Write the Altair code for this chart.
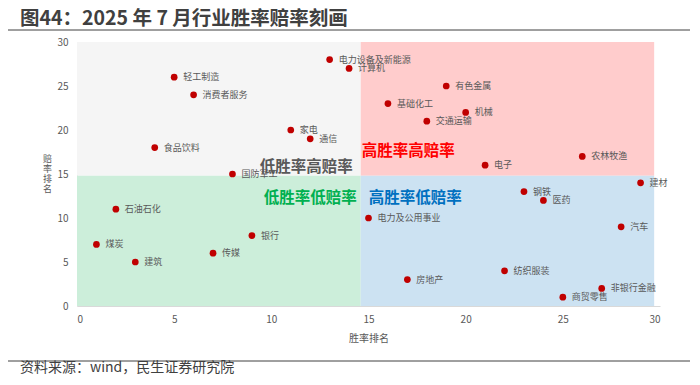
import altair as alt
import pandas as pd

FONT = "Noto Sans CJK SC"

# Industry data: (win-rate rank, odds rank)
industries = ["电力设备及新能源", "计算机", "轻工制造", "消费者服务", "家电", "通信", "食品饮料", "国防军工",
              "有色金属", "基础化工", "机械", "交通运输", "电子", "农林牧渔",
              "建材", "钢铁", "医药", "电力及公用事业", "汽车", "纺织服装", "房地产", "非银行金融", "商贸零售",
              "石油石化", "煤炭", "建筑", "传媒", "银行"]
win_rank = [13, 14, 5, 6, 11, 12, 4, 8,
            19, 16, 20, 18, 21, 26,
            29, 23, 24, 15, 28, 22, 17, 27, 25,
            2, 1, 3, 7, 9]
odds_rank = [28, 27, 26, 24, 20, 19, 18, 15,
             25, 23, 22, 21, 16, 17,
             14, 13, 12, 10, 9, 4, 3, 2, 1,
             11, 7, 5, 6, 8]

# Quadrant backgrounds
quad_x = [0, 14.6, 0, 14.6]
quad_x2 = [14.6, 29.7, 14.6, 29.7]
quad_y = [14.8, 14.8, 0, 0]
quad_y2 = [30, 30, 14.8, 14.8]
quad_fill = ["#F5F5F5", "#FFCCCC", "#CCEEDA", "#CCE2F2"]

# Quadrant labels
quad_names = ["低胜率高赔率", "高胜率高赔率", "低胜率低赔率", "高胜率低赔率"]
quad_lx = [11.8, 17.05, 12.0, 17.4]
quad_ly = [15.8, 17.6, 12.25, 12.3]
quad_lcolor = ["#595959", "#FF0000", "#00B050", "#0070C0"]

x_ticks = [0, 5, 10, 15, 20, 25, 30]
y_ticks = [0, 5, 10, 15, 20, 25, 30]

title_text = "图44：2025 年 7 月行业胜率赔率刻画"
source_text = "资料来源：wind，民生证券研究院"

df = pd.DataFrame({"name": industries, "x": win_rank, "y": odds_rank})
qdf = pd.DataFrame({"x": quad_x, "x2": quad_x2, "y": quad_y, "y2": quad_y2, "fill": quad_fill})
ldf = pd.DataFrame({"name": quad_names, "x": quad_lx, "y": quad_ly, "c": quad_lcolor})

xscale = alt.Scale(domain=[0, 30], nice=False, zero=False)
yscale = alt.Scale(domain=[0, 30], nice=False, zero=False)

xaxis = alt.Axis(values=x_ticks, grid=False, ticks=False, domainColor="#D9D9D9",
                 labelColor="#595959", labelFontSize=10, labelFont=FONT, labelPadding=8,
                 title="胜率排名", titleFont=FONT, titleFontSize=10, titleColor="#595959",
                 titleFontWeight="normal", titlePadding=9)
yaxis = alt.Axis(values=y_ticks, grid=False, ticks=False, domainColor="#D9D9D9",
                 labelColor="#595959", labelFontSize=10, labelFont=FONT, labelPadding=9,
                 title=["赔", "率", "排", "名"], titleAngle=0, titleFont=FONT, titleFontSize=9,
                 titleColor="#595959", titleFontWeight="normal", titleLineHeight=10,
                 titleAlign="center", titleBaseline="top", titleX=-30, titleY=112)

rects = alt.Chart(qdf).mark_rect().encode(
    x=alt.X("x:Q", scale=xscale, axis=xaxis),
    x2="x2:Q",
    y=alt.Y("y:Q", scale=yscale, axis=yaxis),
    y2="y2:Q",
    color=alt.Color("fill:N", scale=None),
)

points = alt.Chart(df).mark_circle(size=45, opacity=1, color="#C00000").encode(
    x=alt.X("x:Q", scale=xscale),
    y=alt.Y("y:Q", scale=yscale),
)

labels = alt.Chart(df).mark_text(align="left", baseline="middle", dx=9, font=FONT,
                                 fontSize=9, color="#595959").encode(
    x=alt.X("x:Q", scale=xscale),
    y=alt.Y("y:Q", scale=yscale),
    text="name:N",
)

qlabels = alt.Chart(ldf).mark_text(align="center", baseline="middle", font=FONT,
                                   fontSize=15.5, fontWeight="bold").encode(
    x=alt.X("x:Q", scale=xscale),
    y=alt.Y("y:Q", scale=yscale),
    text="name:N",
    color=alt.Color("c:N", scale=None),
)

title = alt.Chart(pd.DataFrame({"t": [title_text]})).mark_text(
    align="left", baseline="middle", font=FONT, fontSize=19.5, fontWeight="bold", color="#404040"
).encode(text="t:N", x=alt.value(-57), y=alt.value(-23.5))

title_line = alt.Chart(pd.DataFrame({"a": [0]})).mark_rule(color="#404040", strokeWidth=1).encode(
    x=alt.value(-69), x2=alt.value(613), y=alt.value(-12))

foot_line = alt.Chart(pd.DataFrame({"a": [0]})).mark_rule(color="#404040", strokeWidth=1).encode(
    x=alt.value(-69), x2=alt.value(613), y=alt.value(319))

source = alt.Chart(pd.DataFrame({"t": [source_text]})).mark_text(
    align="left", baseline="middle", font=FONT, fontSize=14, color="#404040"
).encode(text="t:N", x=alt.value(-57), y=alt.value(326))

chart = alt.layer(rects, qlabels, points, labels, title, title_line, foot_line, source).properties(
    width=583, height=264,
    autosize=alt.AutoSizeParams(type="none"),
    padding={"left": 69, "top": 34, "right": 31, "bottom": 70},
    background="white",
).configure_view(strokeWidth=0)

chart.save("out.html", embed_options={"renderer": "svg", "actions": False})
